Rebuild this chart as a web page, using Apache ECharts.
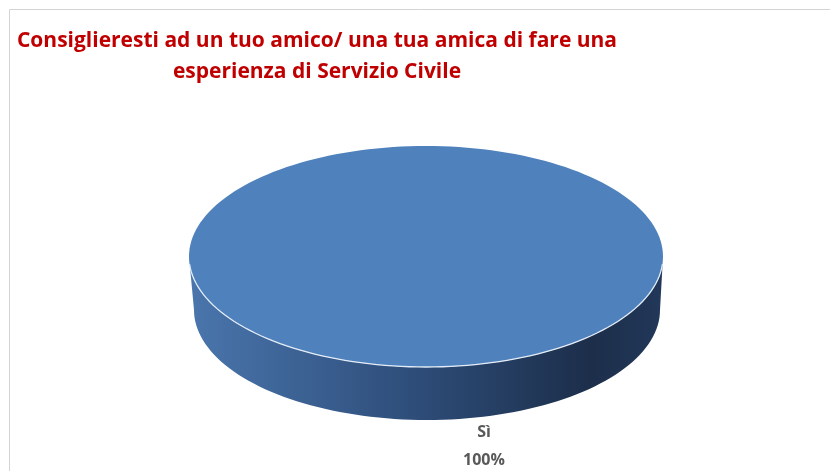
<!DOCTYPE html>
<html>
<head>
<meta charset="utf-8">
<script src="https://cdn.jsdelivr.net/npm/echarts@6/dist/echarts.min.js"></script>
<style>
  html, body { margin: 0; padding: 0; background: #fff; }
  #chart { width: 830px; height: 471px; }
</style>
</head>
<body>
<div id="chart"></div>
<script>
var categories = ['Sì'];
var values = [100];
var titleText = 'Consiglieresti ad un tuo amico/ una tua amica di fare una\nesperienza di Servizio Civile';

var chart = echarts.init(document.getElementById('chart'));

var total = values.reduce(function (a, b) { return a + b; }, 0);

// pie geometry (tilted disc): upper face and lower rim ellipse
var faceE = { cx: 426, cy: 256.5, rx: 237, ry: 110.5 };
var baseE = { cx: 427, cy: 310, rx: 233, ry: 110 };

function pt(e, deg) {
  var r = deg * Math.PI / 180;
  return [e.cx + e.rx * Math.cos(r), e.cy + e.ry * Math.sin(r)];
}

function arc(e, a0, a1) {
  var pts = [];
  var n = Math.max(2, Math.ceil(Math.abs(a1 - a0) / 2));
  for (var i = 0; i <= n; i++) {
    pts.push(pt(e, a0 + (a1 - a0) * i / n));
  }
  return pts;
}

// start at 12 o'clock, going clockwise
var starts = [];
var acc = -90;
values.forEach(function (v) {
  starts.push(acc);
  acc += v / total * 360;
});

function renderItem(params, api) {
  var idx = params.dataIndex;
  var v = api.value(0);
  var a0 = starts[idx];
  var a1 = a0 + v / total * 360;
  var children = [];

  // front wall (visible between 0 and 180 deg)
  [0, 360].forEach(function (shift) {
    var lo = Math.max(a0, 0 - shift), hi = Math.min(a1, 180 - shift);
    if (hi > lo) {
      var pts = arc(baseE, lo, hi).concat(arc(faceE, hi, lo));
      children.push({
        type: 'polygon',
        shape: { points: pts },
        style: {
          fill: new echarts.graphic.LinearGradient(0, 0, 1, 0, [
            { offset: 0, color: '#4a76ad' },
            { offset: 0.45, color: '#2f4f7c' },
            { offset: 0.85, color: '#1c2e4a' },
            { offset: 1, color: '#22385a' }
          ])
        }
      });
    }
  });

  // top face
  var facePts = arc(faceE, a0, a1);
  if (a1 - a0 < 360) facePts.unshift([faceE.cx, faceE.cy]);
  children.push({
    type: 'polygon',
    shape: { points: facePts },
    style: { fill: '#4f81bd' }
  });

  // light edge along the front rim
  var lo = Math.max(a0, 4), hi = Math.min(a1, 176);
  if (hi > lo) {
    children.push({
      type: 'polyline',
      shape: { points: arc(faceE, lo, hi) },
      style: { stroke: '#e4edf7', lineWidth: 1.3, fill: null }
    });
  }

  // data label below the slice
  var mid = (a0 + a1) / 2;
  var lp = pt(baseE, mid);
  children.push({
    type: 'text',
    x: lp[0] + 57,
    y: lp[1] - 2,
    style: {
      text: categories[idx] + '\n' + Math.round(v / total * 100) + '%',
      fill: '#595959',
      font: 'bold 16px "Open Sans", Lato, sans-serif',
      lineHeight: 28,
      align: 'center',
      verticalAlign: 'top'
    }
  });

  return { type: 'group', children: children };
}

chart.setOption({
  backgroundColor: '#ffffff',
  animation: false,
  title: {
    text: titleText,
    left: 312,
    top: 21,
    textAlign: 'center',
    textStyle: {
      color: '#c00000',
      fontSize: 21,
      fontWeight: 'bold',
      fontFamily: '"Open Sans", Lato, sans-serif',
      lineHeight: 31
    }
  },
  graphic: [{
    type: 'rect',
    shape: { x: 9.5, y: 9.5, width: 900, height: 600 },
    style: { fill: null, stroke: '#d4d4d4', lineWidth: 1 },
    silent: true
  }],
  series: [{
    type: 'custom',
    coordinateSystem: 'none',
    renderItem: renderItem,
    data: values.map(function (v, i) { return { name: categories[i], value: [v] }; })
  }]
});
</script>
</body>
</html>
